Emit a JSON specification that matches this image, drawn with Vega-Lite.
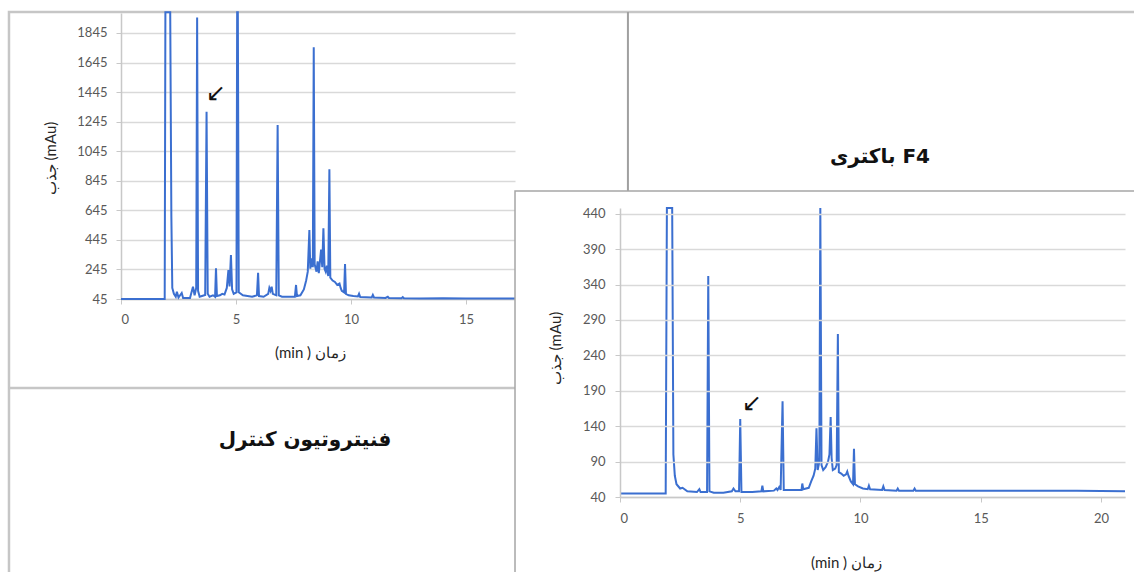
{
  "$schema": "https://vega.github.io/schema/vega-lite/v6.json",
  "width": 1134,
  "height": 572,
  "padding": 0,
  "autosize": {"type": "none"},
  "background": "white",
  "config": {
    "view": {"stroke": null},
    "axis": {
      "labelFont": "Lato",
      "labelFontSize": 13,
      "labelColor": "#595959",
      "titleFont": "Lato",
      "titleFontSize": 15,
      "titleFontWeight": "normal",
      "titleColor": "#262626",
      "domainColor": "#c8c8c8",
      "domainWidth": 1.5,
      "tickColor": "#c8c8c8",
      "tickSize": 5,
      "gridColor": "#d9d9d9",
      "gridWidth": 1.5,
      "format": "d"
    }
  },
  "datasets": {
    "control": [
      {"t": 0, "v": 45}, {"t": 1.9, "v": 45}, {"t": 1.93, "v": 1985}, {"t": 2.14, "v": 1985},
      {"t": 2.19, "v": 600}, {"t": 2.23, "v": 120}, {"t": 2.3, "v": 80}, {"t": 2.38, "v": 60},
      {"t": 2.43, "v": 94}, {"t": 2.5, "v": 55}, {"t": 2.64, "v": 86}, {"t": 2.7, "v": 52},
      {"t": 3.0, "v": 52}, {"t": 3.13, "v": 128}, {"t": 3.2, "v": 70}, {"t": 3.27, "v": 120},
      {"t": 3.31, "v": 1950}, {"t": 3.35, "v": 100}, {"t": 3.42, "v": 60}, {"t": 3.52, "v": 65},
      {"t": 3.66, "v": 72}, {"t": 3.72, "v": 1312}, {"t": 3.77, "v": 80}, {"t": 3.85, "v": 60},
      {"t": 4.0, "v": 70}, {"t": 4.09, "v": 60}, {"t": 4.13, "v": 253}, {"t": 4.17, "v": 65},
      {"t": 4.3, "v": 70}, {"t": 4.4, "v": 80}, {"t": 4.5, "v": 75}, {"t": 4.6, "v": 120},
      {"t": 4.67, "v": 241}, {"t": 4.72, "v": 130}, {"t": 4.78, "v": 343}, {"t": 4.83, "v": 110},
      {"t": 4.9, "v": 80}, {"t": 5.02, "v": 90}, {"t": 5.05, "v": 1985}, {"t": 5.08, "v": 1985},
      {"t": 5.12, "v": 90}, {"t": 5.3, "v": 70}, {"t": 5.5, "v": 65}, {"t": 5.7, "v": 60},
      {"t": 5.91, "v": 70}, {"t": 5.96, "v": 223}, {"t": 6.0, "v": 65}, {"t": 6.2, "v": 60},
      {"t": 6.4, "v": 80}, {"t": 6.45, "v": 120}, {"t": 6.5, "v": 100}, {"t": 6.55, "v": 128},
      {"t": 6.6, "v": 80}, {"t": 6.75, "v": 70}, {"t": 6.81, "v": 1222}, {"t": 6.86, "v": 70},
      {"t": 7.0, "v": 60}, {"t": 7.3, "v": 60}, {"t": 7.56, "v": 60}, {"t": 7.61, "v": 140},
      {"t": 7.65, "v": 65}, {"t": 7.8, "v": 70}, {"t": 7.95, "v": 110}, {"t": 8.05, "v": 170},
      {"t": 8.12, "v": 230}, {"t": 8.19, "v": 512}, {"t": 8.23, "v": 250}, {"t": 8.3, "v": 320},
      {"t": 8.34, "v": 260}, {"t": 8.38, "v": 1748}, {"t": 8.42, "v": 280}, {"t": 8.5, "v": 230},
      {"t": 8.55, "v": 300}, {"t": 8.6, "v": 220}, {"t": 8.7, "v": 380}, {"t": 8.75, "v": 260},
      {"t": 8.8, "v": 523}, {"t": 8.85, "v": 250}, {"t": 8.9, "v": 230}, {"t": 8.95, "v": 270},
      {"t": 9.01, "v": 200}, {"t": 9.06, "v": 922}, {"t": 9.1, "v": 190}, {"t": 9.2, "v": 170},
      {"t": 9.3, "v": 160}, {"t": 9.4, "v": 140}, {"t": 9.5, "v": 150}, {"t": 9.55, "v": 120},
      {"t": 9.6, "v": 100}, {"t": 9.7, "v": 90}, {"t": 9.74, "v": 282}, {"t": 9.78, "v": 80},
      {"t": 9.9, "v": 70}, {"t": 10.1, "v": 65}, {"t": 10.3, "v": 62}, {"t": 10.35, "v": 80},
      {"t": 10.4, "v": 58}, {"t": 10.9, "v": 55}, {"t": 10.95, "v": 72}, {"t": 11.0, "v": 55},
      {"t": 11.5, "v": 52}, {"t": 11.6, "v": 60}, {"t": 11.65, "v": 52}, {"t": 12.2, "v": 50},
      {"t": 12.25, "v": 58}, {"t": 12.3, "v": 50}, {"t": 13.0, "v": 48}, {"t": 14.0, "v": 50},
      {"t": 15.0, "v": 48}, {"t": 16.0, "v": 49}, {"t": 17.13, "v": 48}
    ],
    "f4": [
      {"t": 0, "v": 45}, {"t": 1.9, "v": 45}, {"t": 1.95, "v": 448}, {"t": 2.17, "v": 448},
      {"t": 2.22, "v": 100}, {"t": 2.28, "v": 70}, {"t": 2.35, "v": 58}, {"t": 2.5, "v": 52},
      {"t": 2.6, "v": 53}, {"t": 2.8, "v": 48}, {"t": 3.2, "v": 47}, {"t": 3.3, "v": 51},
      {"t": 3.35, "v": 47}, {"t": 3.62, "v": 47}, {"t": 3.67, "v": 352}, {"t": 3.72, "v": 48},
      {"t": 3.9, "v": 46}, {"t": 4.3, "v": 46}, {"t": 4.65, "v": 48}, {"t": 4.72, "v": 52},
      {"t": 4.8, "v": 48}, {"t": 4.95, "v": 48}, {"t": 5.0, "v": 150}, {"t": 5.05, "v": 47},
      {"t": 5.5, "v": 47}, {"t": 5.88, "v": 48}, {"t": 5.92, "v": 56}, {"t": 5.96, "v": 48},
      {"t": 6.4, "v": 49}, {"t": 6.5, "v": 52}, {"t": 6.55, "v": 50}, {"t": 6.62, "v": 54},
      {"t": 6.68, "v": 50}, {"t": 6.76, "v": 175}, {"t": 6.81, "v": 50}, {"t": 7.3, "v": 50},
      {"t": 7.55, "v": 50}, {"t": 7.58, "v": 59}, {"t": 7.62, "v": 51}, {"t": 7.85, "v": 53},
      {"t": 7.95, "v": 62}, {"t": 8.05, "v": 70}, {"t": 8.12, "v": 80}, {"t": 8.17, "v": 137},
      {"t": 8.22, "v": 78}, {"t": 8.29, "v": 90}, {"t": 8.33, "v": 448}, {"t": 8.38, "v": 85},
      {"t": 8.45, "v": 78}, {"t": 8.55, "v": 82}, {"t": 8.65, "v": 90}, {"t": 8.71, "v": 100},
      {"t": 8.76, "v": 153}, {"t": 8.8, "v": 95}, {"t": 8.85, "v": 78}, {"t": 8.95, "v": 80},
      {"t": 9.01, "v": 85}, {"t": 9.06, "v": 270}, {"t": 9.1, "v": 75}, {"t": 9.2, "v": 73},
      {"t": 9.3, "v": 70}, {"t": 9.4, "v": 72}, {"t": 9.45, "v": 76}, {"t": 9.5, "v": 70},
      {"t": 9.6, "v": 62}, {"t": 9.69, "v": 58}, {"t": 9.73, "v": 108}, {"t": 9.77, "v": 58},
      {"t": 9.9, "v": 55}, {"t": 10.1, "v": 52}, {"t": 10.3, "v": 51}, {"t": 10.35, "v": 56},
      {"t": 10.4, "v": 51}, {"t": 10.9, "v": 50}, {"t": 10.95, "v": 55}, {"t": 11.0, "v": 50},
      {"t": 11.5, "v": 49}, {"t": 11.55, "v": 52}, {"t": 11.6, "v": 49}, {"t": 12.2, "v": 49},
      {"t": 12.25, "v": 52}, {"t": 12.3, "v": 49}, {"t": 13, "v": 49}, {"t": 15, "v": 49},
      {"t": 17, "v": 49}, {"t": 19, "v": 49}, {"t": 21, "v": 48}
    ]
  },
  "layer": [
    {
      "data": {"values": [{}]},
      "mark": {"type": "rect", "fill": null, "stroke": "#c6c6c6", "strokeWidth": 2.5},
      "encoding": {
        "x": {"datum": -4.87, "type": "quantitative", "scale": {"domain": [0, 17.13], "range": [121, 515], "nice": false, "zero": false}, "axis": null},
        "x2": {"datum": 44.3},
        "y": {"datum": 1986.8, "type": "quantitative", "scale": {"domain": [45, 1980], "range": [299, 13], "nice": false, "zero": false}, "axis": null},
        "y2": {"datum": -1856}
      }
    },
    {
      "data": {"values": [{}]},
      "mark": {"type": "rule", "stroke": "#a0a0a0", "strokeWidth": 2},
      "encoding": {
        "x": {"datum": 22.04, "type": "quantitative", "scale": {"domain": [0, 17.13], "range": [121, 515], "nice": false, "zero": false}, "axis": null},
        "y": {"datum": 1986.8, "type": "quantitative", "scale": {"domain": [45, 1980], "range": [299, 13], "nice": false, "zero": false}, "axis": null},
        "y2": {"datum": -557.2}
      }
    },
    {
      "data": {"values": [{}]},
      "mark": {"type": "rule", "stroke": "#c6c6c6", "strokeWidth": 2.5},
      "encoding": {
        "x": {"datum": -4.87, "type": "quantitative", "scale": {"domain": [0, 17.13], "range": [121, 515], "nice": false, "zero": false}, "axis": null},
        "x2": {"datum": 22.04},
        "y": {"datum": -557.2, "type": "quantitative", "scale": {"domain": [45, 1980], "range": [299, 13], "nice": false, "zero": false}, "axis": null}
      }
    },
    {
      "data": {"name": "control"},
      "mark": {"type": "line", "color": "#3b6fd0", "strokeWidth": 2},
      "encoding": {
        "x": {
          "field": "t", "type": "quantitative",
          "scale": {"domain": [0, 17.13], "range": [121, 515], "nice": false, "zero": false},
          "axis": {"orient": "bottom", "offset": -273, "values": [0, 5, 10, 15], "grid": false, "labelPadding": 9, "title": "(min ) زمان", "titleX": 310, "titleY": 53, "titleBaseline": "middle", "titleAlign": "center"}
        },
        "y": {
          "field": "v", "type": "quantitative",
          "scale": {"domain": [45, 1980], "range": [299, 13], "nice": false, "zero": false},
          "axis": {"orient": "left", "offset": -121, "values": [45, 245, 445, 645, 845, 1045, 1245, 1445, 1645, 1845], "grid": true, "labelPadding": 9, "title": "جذب (mAu)", "titleX": -71, "titleY": 158, "titleAngle": 270, "titleBaseline": "middle", "titleAlign": "center"}
        }
      }
    },
    {
      "data": {"values": [{}]},
      "mark": {"type": "text", "text": "↙", "font": "DejaVu Sans", "fontSize": 24, "color": "#111111", "align": "center", "baseline": "middle"},
      "encoding": {
        "x": {"datum": 4.13, "type": "quantitative", "scale": {"domain": [0, 17.13], "range": [121, 515], "nice": false, "zero": false}, "axis": null},
        "y": {"datum": 1432, "type": "quantitative", "scale": {"domain": [45, 1980], "range": [299, 13], "nice": false, "zero": false}, "axis": null}
      }
    },
    {
      "data": {"values": [{}]},
      "mark": {"type": "text", "text": "فنیتروتیون کنترل", "font": "DejaVu Sans", "fontSize": 20, "fontWeight": "bold", "color": "#111111", "align": "center", "baseline": "middle"},
      "encoding": {
        "x": {"datum": 8.0, "type": "quantitative", "scale": {"domain": [0, 17.13], "range": [121, 515], "nice": false, "zero": false}, "axis": null},
        "y": {"datum": -909, "type": "quantitative", "scale": {"domain": [45, 1980], "range": [299, 13], "nice": false, "zero": false}, "axis": null}
      }
    },
    {
      "data": {"values": [{}]},
      "mark": {"type": "rect", "fill": "white", "stroke": "#a6a6a6", "strokeWidth": 1.5},
      "encoding": {
        "x": {"datum": -4.366, "type": "quantitative", "scale": {"domain": [0, 21], "range": [620, 1125], "nice": false, "zero": false}, "axis": null},
        "x2": {"datum": 21.83},
        "y": {"datum": 472.0, "type": "quantitative", "scale": {"domain": [40, 448], "range": [497, 208], "nice": false, "zero": false}, "axis": null},
        "y2": {"datum": -84.2}
      }
    },
    {
      "data": {"name": "f4"},
      "mark": {"type": "line", "color": "#3b6fd0", "strokeWidth": 2},
      "encoding": {
        "x": {
          "field": "t", "type": "quantitative",
          "scale": {"domain": [0, 21], "range": [620, 1125], "nice": false, "zero": false},
          "axis": {"orient": "bottom", "offset": -75, "zindex": 1, "values": [0, 5, 10, 15, 20], "grid": false, "labelPadding": 10, "title": "(min ) زمان", "titleX": 846, "titleY": 65, "titleBaseline": "middle", "titleAlign": "center"}
        },
        "y": {
          "field": "v", "type": "quantitative",
          "scale": {"domain": [40, 448], "range": [497, 208], "nice": false, "zero": false},
          "axis": {"orient": "left", "offset": -620, "zindex": 1, "values": [40, 90, 140, 190, 240, 290, 340, 390, 440], "grid": true, "labelPadding": 10, "title": "جذب (mAu)", "titleX": -65, "titleY": 348, "titleAngle": 270, "titleBaseline": "middle", "titleAlign": "center"}
        }
      }
    },
    {
      "data": {"values": [{}]},
      "mark": {"type": "text", "text": "↙", "font": "DejaVu Sans", "fontSize": 24, "color": "#111111", "align": "center", "baseline": "middle"},
      "encoding": {
        "x": {"datum": 5.49, "type": "quantitative", "scale": {"domain": [0, 21], "range": [620, 1125], "nice": false, "zero": false}, "axis": null},
        "y": {"datum": 171, "type": "quantitative", "scale": {"domain": [40, 448], "range": [497, 208], "nice": false, "zero": false}, "axis": null}
      }
    },
    {
      "data": {"values": [{}]},
      "mark": {"type": "text", "text": "باکتری F4", "font": "DejaVu Sans", "fontSize": 20, "fontWeight": "bold", "color": "#111111", "align": "center", "baseline": "middle"},
      "encoding": {
        "x": {"datum": 10.81, "type": "quantitative", "scale": {"domain": [0, 21], "range": [620, 1125], "nice": false, "zero": false}, "axis": null},
        "y": {"datum": 520, "type": "quantitative", "scale": {"domain": [40, 448], "range": [497, 208], "nice": false, "zero": false}, "axis": null}
      }
    }
  ],
  "resolve": {
    "scale": {"x": "independent", "y": "independent"},
    "axis": {"x": "independent", "y": "independent"}
  }
}
